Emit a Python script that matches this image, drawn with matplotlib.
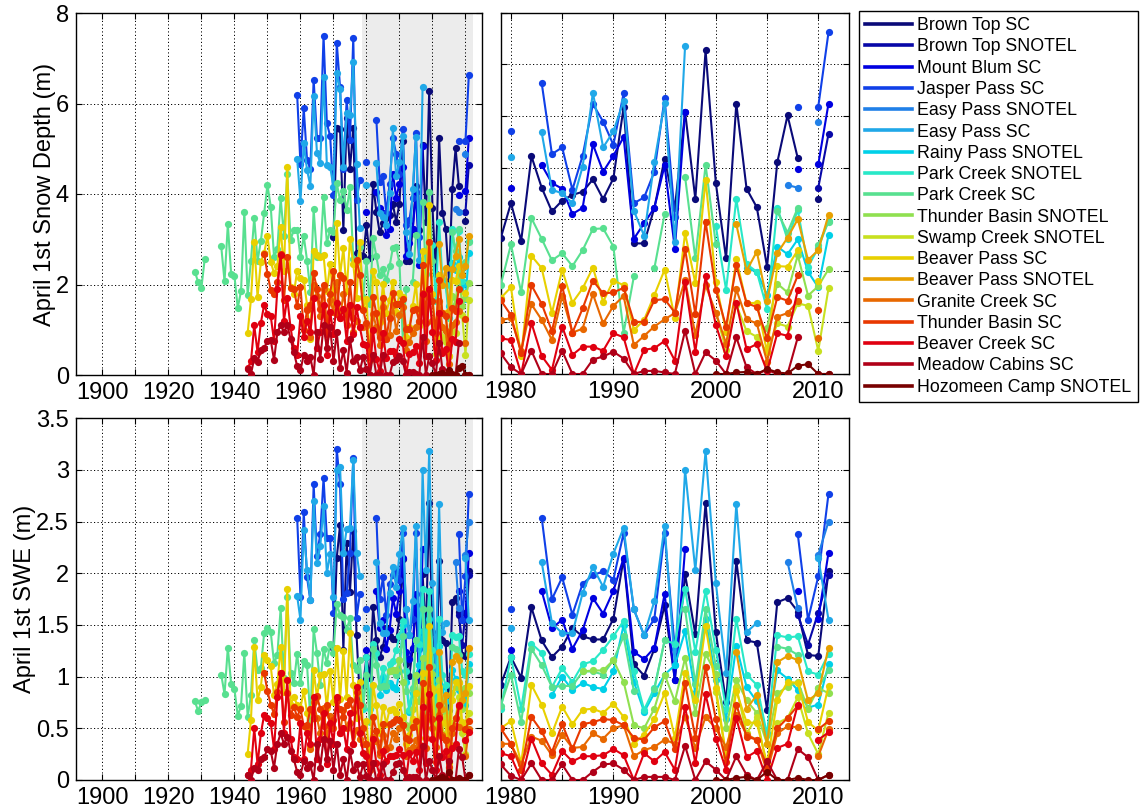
import numpy as np
import matplotlib
matplotlib.use("Agg")
import matplotlib.pyplot as plt
from matplotlib.lines import Line2D

plt.rcParams["font.family"] = ["Liberation Sans", "DejaVu Sans"]

N = np.nan

station_names = [
    "Brown Top SC", "Brown Top SNOTEL", "Mount Blum SC", "Jasper Pass SC",
    "Easy Pass SNOTEL", "Easy Pass SC", "Rainy Pass SNOTEL", "Park Creek SNOTEL",
    "Park Creek SC", "Thunder Basin SNOTEL", "Swamp Creek SNOTEL", "Beaver Pass SC",
    "Beaver Pass SNOTEL", "Granite Creek SC", "Thunder Basin SC", "Beaver Creek SC",
    "Meadow Cabins SC", "Hozomeen Camp SNOTEL",
]
station_colors = [
    "#0a0a78", "#0808a8", "#0000e0", "#1040e8", "#2080e8", "#20a8e8",
    "#00d0e8", "#28e8c8", "#58e090", "#90e050", "#c8e020", "#e8d000",
    "#e8a000", "#e86800", "#e83800", "#e00010", "#b00018", "#780000",
]

# Each record: (first year, one value per year); NaN marks a missing year.
# ---------------- April 1st snow depth (m) ----------------
brown_top_sc_depth = (1970, [
    3.05, 5.45, 5.44, 3.20, 5.67, 4.56, 5.45, 2.70, 2.65,
    2.63, 3.31, 2.58, 4.22, 3.61, 3.15, 3.36, 3.47, 3.53, 3.77, 3.39,
    3.79, 5.17, 2.53, 2.53, 3.22, 4.17, 3.21, 5.08, 3.39, 6.27,
    3.70, 2.24, 5.24, 3.59, 3.23, 2.08, 4.10, 5.01, 4.18, N, 3.40, N])
brown_top_snotel_depth = (2010, [3.61, 4.65])
mount_blum_sc_depth = (1979, [
    N, 3.60, N, N, 4.05, 3.70, 3.59, 3.10, 3.22, 4.45, 3.92,
    4.23, 4.59, 2.62, 2.92, 3.22, 4.04, 2.43, 5.07, N, N,
    N, N, N, N, N, N, N, N, 3.97, N, 4.06, 5.24])
jasper_pass_sc_depth = (1959, [
    6.19, 4.66, 5.89, 4.75, 4.56, 6.53, 5.24, 5.24, 7.49, 5.56,
    5.28, 3.98, 7.34, 6.36, 4.55, 6.08, 5.20, 7.45, 3.87, 4.30,
    N, 4.71, N, N, 5.64, 4.26, 4.39, 3.57, 4.23, 5.23, 4.89,
    4.44, 5.44, 3.31, 3.42, 3.92, 5.34, 3.05, N, N, N,
    N, N, N, N, N, N, N, N, 5.18, N, 5.18, 6.62])
easy_pass_snotel_depth = (2007, [3.66, 3.61, N, 4.88, N])
easy_pass_sc_depth = (1959, [
    4.78, 3.84, 5.12, 4.53, 4.18, 6.16, 4.91, 4.69, 6.58, 4.64,
    4.60, 4.15, 6.68, 6.33, 4.60, 5.78, 5.75, 6.92, 4.67, 3.25,
    N, 4.20, N, N, 4.68, 3.57, 3.50, 3.31, 4.02, 5.45, 4.39,
    4.70, 5.29, 3.16, 2.68, 4.11, 5.25, 2.55, 6.36])
rainy_pass_snotel_depth = (2003, [2.05, 1.98, 1.53, 2.47, 2.32, 2.61, 1.98, 1.68, 2.69])
park_creek_snotel_depth = (2000, [2.87, 1.63, 3.39, 2.13, 1.98, 1.26, 3.22, 2.61, 3.18, 2.08, 2.44, 2.97])
park_creek_sc_depth = (1928, [
    2.28, 2.06, 1.93, 2.57, N, N, N, N,
    2.84, 2.07, 3.33, 2.23, 2.19, 1.48, 1.86, 3.61, 1.77, 2.52,
    3.48, 2.52, 2.96, 3.57, 4.20, 3.72, 2.60, 2.79, 3.91, 3.07,
    4.45, 2.98, 3.21, 3.20, 2.61, 3.07, 2.53, 1.84, 3.66, 2.61,
    2.64, 3.93, 2.92, 3.20, 3.16, 4.24, 3.86, 4.07, 3.64, 4.15,
    2.57, 2.50, 2.83,
    1.72, 2.51, 1.58, 3.02, 2.62, 2.20, 2.34, 2.09, 2.40, 2.81, 2.82,
    2.47, 0.80, 1.89, N, 2.05, 3.10, N, 3.82, 2.24, 4.05,
    2.52, N, N, N, N, N, 3.15, 2.74, 3.22, N, 2.50, 2.95])
thunder_basin_snotel_depth = (2005, [0.90, 1.75, 1.58, 2.30, 1.52, 1.70, 2.03])
swamp_creek_snotel_depth = (2000, [1.19, 0.47, 1.34, 0.83, 0.72, 0.42, 0.98, 0.92, 1.37, 1.32, 0.45, 1.66])
beaver_pass_sc_depth = (1944, [
    0.92, 1.67, 2.93, 1.72, 2.50, 2.70, 3.07, 2.50, 2.25, 2.40,
    3.27, 2.30, 4.60, 1.95, 1.80, 2.30, 2.15, 2.10, 1.55, 0.80,
    2.75, 2.65, 2.60, 2.65, 1.85, 2.45, 1.60, 3.35, 2.20, 2.80,
    1.85, 3.00, 2.45, 1.70, 2.95,
    1.47, 1.68, 0.34, 2.29, 2.05, 1.18, 2.02, 1.38, 1.66, 2.06, 1.40,
    1.81, 1.72, 0.85, 1.05, 1.53, 2.02, 1.08, 2.73, 1.76, 3.76,
    1.78, 0.82, 2.22, 1.37, 1.38, 0.43, 2.09, 2.08, 2.40, N, 1.81, N])
beaver_pass_snotel_depth = (2002, [2.90, 2.00, 2.37, 1.42, 2.34, 2.64, 3.00, 2.21, 2.40, 3.08])
granite_creek_sc_depth = (1962, [
    1.45, 0.85, 2.00, 1.75, 1.30, 1.90, 1.10, 1.65, 1.40, 2.05,
    1.25, 1.80, 1.35, 1.55, 0.95, 1.20, 1.05,
    1.05, 1.08, 0.45, 1.35, 1.05, 0.66, 1.51, 0.80, 0.88, 1.55, 0.98,
    1.32, 1.51, 0.56, 0.74, 0.92, 1.06, 1.18, 1.82, 0.76, 1.72,
    1.19, 0.59, 1.64, 1.06, 0.98, 0.24, 1.11, 1.18, 1.41, N, 0.70, N])
thunder_basin_sc_depth = (1949, [
    2.68, 2.24, 1.87, 1.78, 2.05, 2.67, 1.65, 2.60, 1.93, 1.90,
    1.52, 1.95, 1.00, 1.43, 1.55, 2.25, 1.90, 1.45, 1.98, 0.90,
    1.80, 2.30, 1.35, 2.20, 2.15, 1.10, 2.05, 1.25, 2.55, 2.20,
    1.43, 1.14, 0.40, 1.72, 1.36, 0.83, 1.71, 0.80, 1.27, 1.81, 1.56,
    1.58, 1.67, 1.01, 1.01, 1.43, 1.45, 1.19, 2.42, 1.16, 2.95,
    1.63, 0.92, 2.11, 1.37, 1.30, 0.69, 1.49, 1.42, 1.91, N, 1.24, N])
beaver_creek_sc_depth = (1944, [
    0.15, 0.30, 1.10, 0.50, 1.15, 1.55, 1.35, 1.30, 0.75, 1.90,
    2.65, 1.20, 1.70, 1.05, 0.60, 0.45, 1.30, 0.85, 1.20, 0.95,
    1.70, 0.60, 0.95, 1.55, 0.45, 1.40, 0.90, 1.60, 1.25, 1.45,
    0.75, 1.55, 0.90, 1.50, 1.05,
    0.69, 0.66, 0.00, 0.99, 0.35, 0.08, 0.92, 0.37, 0.53, 0.53, 0.45,
    0.79, 0.71, 0.00, 0.47, 0.50, 0.64, 0.26, 1.79, 0.43, 1.89,
    0.95, 0.34, 1.38, 0.48, 0.58, 0.05, 0.79, 0.74, 1.63, N, N, N])
meadow_cabins_sc_depth = (1944, [
    0.13, 0.02, 0.37, 0.29, 0.55, 0.60, 0.75, 0.77, 0.33, 0.94,
    1.10, 0.95, 1.10, 0.80, 0.50, 0.20, 0.10, 0.45, 0.30, 0.40,
    0.00, 0.95, 0.35, 1.10, 0.60, 1.05, 0.30, 0.95, 0.15, 0.55,
    0.05, 0.80, 0.30, 0.40, 0.10,
    0.40, 0.13, 0.00, 0.45, 0.00, 0.00, 0.45, 0.00, 0.00, 0.28, 0.34,
    0.43, 0.30, 0.00, 0.06, 0.06, 0.03, 0.00, 0.84, 0.00, 0.42,
    0.26, 0.00, 0.71, 0.13, 0.00, 0.08, 0.00, 0.00, 0.71, N, 0.00, 0.00])
hozomeen_camp_snotel_depth = (2000, [0.00, 0.00, 0.03, 0.04, 0.00, 0.10, 0.03, 0.01, 0.16, 0.19, 0.00, 0.00])

# ---------------- April 1st snow water equivalent (m) ----------------
brown_top_sc_swe = (1970, [
    1.28, 2.15, 2.47, 1.26, 2.29, 1.82, 2.41, 1.40, 0.78,
    0.92, 1.19, 0.99, 1.67, 1.35, 1.19, 1.29, 1.47, 1.39, 1.36, 1.36,
    1.56, 2.14, 1.12, 1.01, 1.27, 1.69, 0.97, 1.99, 1.41, 2.68,
    1.43, 0.75, 2.12, 1.35, 1.33, 0.68, 1.72, 1.76, 1.63, 1.21, 1.20, 2.02])
brown_top_snotel_swe = (2008, [1.60, 1.31, 1.62, 1.98])
mount_blum_sc_swe = (1979, [
    N, 1.26, N, N, 1.83, 1.47, 1.55, 1.27, 1.45, 1.76, 1.61,
    1.83, 2.15, 1.24, 1.17, 1.28, 1.80, 0.97, 2.24, N, N,
    N, N, N, N, N, N, N, N, 1.83, N, 1.56, 2.20])
jasper_pass_sc_swe = (1959, [
    2.54, 1.77, 2.59, 1.96, 1.74, 2.86, 2.17, 2.38, 2.92, 2.34,
    2.34, 1.62, 3.20, 2.86, 1.75, 1.81, 2.20, 3.12, 1.57, 1.80,
    N, 1.65, N, N, 2.54, 1.75, 1.96, 1.60, 1.90, 1.98, 2.02,
    1.94, 2.39, 1.65, 1.40, 1.56, 2.39, 1.27, N, N, N,
    N, N, N, N, N, N, N, N, 2.38, 1.55, 1.97, 2.77])
easy_pass_snotel_swe = (2007, [2.11, 1.66, N, 2.18, 2.50])
easy_pass_sc_swe = (1959, [
    1.78, 1.55, 2.42, 2.03, 1.74, 2.70, 2.10, 2.26, 2.65, 2.00,
    2.19, 1.77, 3.00, 3.03, 2.20, 2.43, 2.44, 3.10, 2.20, 1.97,
    N, 1.47, N, N, 2.11, 1.52, 1.42, 1.42, 1.81, 2.06, 1.87,
    2.19, 2.44, 1.65, 1.40, 1.73, 2.46, 1.11, 3.00, 2.03, 3.18,
    1.91, 1.04, 2.67, 1.43, 1.52, N, N, N, N, N, 2.15, 1.55])
rainy_pass_snotel_swe = (1984, [
    0.82, 1.00, 0.87, 0.94, 0.90, 0.88,
    1.05, 1.50, 0.95, 0.66, 0.84, 1.02, 1.11, 1.44, 0.84, 1.56,
    0.97, 0.59, 1.30, 0.90, 0.76, 0.45, 1.06, 0.98, 0.87, 0.70, 0.73, 1.12])
park_creek_snotel_swe = (1979, [
    0.69, 1.19, 0.69, 1.32, 1.23, 0.90, 1.08, 0.95, 1.12, 1.15, 1.26,
    1.39, 1.54, 1.05, 0.68, 0.89, 1.35, 1.32, 1.85, 1.24, 1.83,
    1.26, 0.69, 1.56, 1.02, 0.92, 0.44, 1.40, 1.38, 1.39, 1.05, 1.02, 1.22])
park_creek_sc_swe = (1928, [
    0.76, 0.67, 0.75, 0.77, N, N, N, N,
    1.02, 0.83, 1.28, 0.93, 0.88, 0.62, 0.72, 1.23, 0.61, 0.82,
    1.35, 1.06, 1.08, 1.42, 1.47, 1.43, 1.13, 1.21, 1.66, 0.99,
    1.77, 1.04, 0.94, 1.22, 0.94, 1.15, 1.11, 0.58, 1.46, 1.23,
    0.92, 1.27, 1.13, 1.32, 1.23, 1.70, 1.60, 1.58, 1.45, 1.57,
    1.11, 1.06, 1.16,
    0.72, 1.02, 0.56, 1.27, 1.11, 0.90, 0.91, 0.91, 1.05, 1.05, 1.02,
    1.16, 1.39, 0.86, N, 0.88, 1.35, N, 1.65, 0.93, 1.65,
    1.10, N, N, N, N, N, 1.29, 1.27, 1.21, N, 0.89, 1.06])
thunder_basin_snotel_swe = (1987, [
    1.05, 1.06, 1.06,
    1.16, 0.95, 0.53, 0.50, 0.69, 1.02, 0.76, 1.18, 0.65, 1.22,
    1.03, 0.50, 0.97, 0.77, 0.65, 0.35, 0.84, 0.90, 0.95, 0.69, 0.89, 0.84])
swamp_creek_snotel_swe = (2000, [0.85, 0.23, 0.90, 0.45, 0.61, 0.12, 0.55, 0.60, 0.80, 0.45, 0.25, 0.65])
beaver_pass_sc_swe = (1944, [
    0.25, 0.58, 1.29, 0.77, 0.90, 1.21, 1.16, 1.10, 0.82, 0.93,
    1.29, 0.85, 1.85, 0.73, 0.80, 0.73, 0.70, 0.86, 0.65, 0.33,
    1.06, 0.80, 1.02, 1.03, 0.70, 1.05, 0.75, 1.28, 0.78, 1.25,
    0.80, 1.42, 0.92, 0.60, 0.95,
    0.50, 0.57, 0.16, 0.92, 0.73, 0.45, 0.71, 0.54, 0.68, 0.69, 0.65,
    0.74, 0.61, 0.35, 0.44, 0.59, 0.84, 0.41, 1.04, 0.77, 1.49,
    0.89, 0.24, 0.86, 0.56, 0.55, 0.16, 0.77, 0.95, 0.94, 0.56, 0.48, 0.91])
beaver_pass_snotel_swe = (2002, [1.24, 0.69, 0.82, 0.35, 1.14, 1.20, 1.16, 0.77, 0.84, 1.28])
granite_creek_sc_swe = (1962, [
    0.50, 0.30, 0.75, 0.60, 0.45, 0.70, 0.40, 0.62, 0.50, 0.78,
    0.45, 0.68, 0.50, 0.55, 0.35, 0.48, 0.40,
    0.35, 0.35, 0.15, 0.42, 0.38, 0.24, 0.44, 0.31, 0.32, 0.45, 0.40,
    0.50, 0.53, 0.23, 0.29, 0.32, 0.39, 0.35, 0.61, 0.31, 0.61,
    0.50, 0.32, 0.63, 0.44, 0.39, 0.08, 0.45, 0.52, 0.51, N, 0.23, 0.49])
thunder_basin_sc_swe = (1949, [
    1.04, 0.86, 0.73, 0.64, 0.85, 1.04, 0.56, 0.84, 0.63, 0.71,
    0.61, 0.69, 0.52, 0.53, 0.69, 0.60, 0.81, 0.69, 0.52, 0.73,
    0.52, 0.58, 0.76, 0.69, 0.61, 0.73, 0.77, 0.66, 0.85, 0.73,
    0.50, 0.35, 0.10, 0.61, 0.47, 0.27, 0.54, 0.30, 0.54, 0.56, 0.59,
    0.58, 0.53, 0.41, 0.39, 0.51, 0.57, 0.30, 0.94, 0.41, 1.09,
    0.59, 0.17, 0.73, 0.42, 0.39, 0.13, 0.50, 0.60, 0.72, N, 0.49, 0.57])
beaver_creek_sc_swe = (1944, [
    0.05, 0.10, 0.50, 0.15, 0.45, 0.63, 0.60, 0.55, 0.30, 0.80,
    1.04, 0.45, 0.97, 0.40, 0.22, 0.20, 0.55, 0.20, 0.45, 0.35,
    0.80, 0.20, 0.40, 0.65, 0.15, 0.55, 0.35, 0.80, 0.45, 0.50,
    0.30, 0.65, 0.35, 0.90, 0.45,
    0.26, 0.23, 0.00, 0.40, 0.16, 0.05, 0.28, 0.18, 0.23, 0.23, 0.24,
    0.30, 0.24, 0.00, 0.26, 0.18, 0.27, 0.10, 0.71, 0.16, 0.83,
    0.40, 0.10, 0.60, 0.22, 0.28, 0.00, 0.31, 0.35, 0.73, N, 0.39, 0.46])
meadow_cabins_sc_swe = (1944, [
    0.05, 0.00, 0.12, 0.10, 0.20, 0.22, 0.30, 0.28, 0.12, 0.35,
    0.45, 0.35, 0.42, 0.28, 0.20, 0.08, 0.05, 0.18, 0.12, 0.15,
    0.00, 0.35, 0.12, 0.40, 0.20, 0.38, 0.10, 0.35, 0.05, 0.20,
    0.00, 0.28, 0.10, 0.15, 0.03,
    0.15, 0.04, 0.00, 0.16, 0.00, 0.00, 0.15, 0.00, 0.00, 0.08, 0.15,
    0.16, 0.10, 0.00, 0.03, 0.03, 0.03, 0.00, 0.33, 0.00, 0.18,
    0.10, 0.00, 0.23, 0.05, 0.00, 0.18, 0.00, 0.00, 0.30, 0.22, 0.00, 0.05])
hozomeen_camp_snotel_swe = (2000, [0.00, 0.00, 0.02, 0.03, 0.00, 0.08, 0.00, 0.00, 0.02, 0.00, 0.00, 0.05])

depth_records = [
    brown_top_sc_depth, brown_top_snotel_depth, mount_blum_sc_depth,
    jasper_pass_sc_depth, easy_pass_snotel_depth, easy_pass_sc_depth,
    rainy_pass_snotel_depth, park_creek_snotel_depth, park_creek_sc_depth,
    thunder_basin_snotel_depth, swamp_creek_snotel_depth, beaver_pass_sc_depth,
    beaver_pass_snotel_depth, granite_creek_sc_depth, thunder_basin_sc_depth,
    beaver_creek_sc_depth, meadow_cabins_sc_depth, hozomeen_camp_snotel_depth,
]
swe_records = [
    brown_top_sc_swe, brown_top_snotel_swe, mount_blum_sc_swe,
    jasper_pass_sc_swe, easy_pass_snotel_swe, easy_pass_sc_swe,
    rainy_pass_snotel_swe, park_creek_snotel_swe, park_creek_sc_swe,
    thunder_basin_snotel_swe, swamp_creek_snotel_swe, beaver_pass_sc_swe,
    beaver_pass_snotel_swe, granite_creek_sc_swe, thunder_basin_sc_swe,
    beaver_creek_sc_swe, meadow_cabins_sc_swe, hozomeen_camp_snotel_swe,
]

overlap_period = (1978.6, 2012.3)
FS = 17
W, H = 1140, 811


def px_axes(x0, y0, x1, y1):
    return [x0 / W, 1 - y1 / H, (x1 - x0) / W, (y1 - y0) / H]


def draw_records(ax, records):
    for (start, vals), color in zip(records, station_colors):
        vals = np.asarray(vals, dtype=float)
        years = start + np.arange(len(vals))
        ax.plot(years, vals, "-o", color=color, lw=1.5, ms=5.2,
                mew=0, zorder=3)


def style_axes(ax):
    ax.grid(True, color="k", linestyle=(0, (1.2, 2.4)), linewidth=0.7)
    ax.set_axisbelow(True)
    ax.tick_params(direction="in", top=True, right=True, length=4,
                   width=0.8, labelsize=FS, pad=5)
    for s in ax.spines.values():
        s.set_linewidth(1.0)


fig = plt.figure(figsize=(W / 100, H / 100), dpi=100)
ax_tl = fig.add_axes(px_axes(76, 13, 482, 375))
ax_tr = fig.add_axes(px_axes(500.7, 12.7, 849, 374))
ax_bl = fig.add_axes(px_axes(76, 418.3, 482, 780))
ax_br = fig.add_axes(px_axes(500.7, 418.3, 849, 780))

long_ticks = list(range(1900, 2011, 10))
long_labels = [str(y) if (y % 20 == 0) else "" for y in long_ticks]
short_ticks = list(range(1980, 2011, 5))
short_labels = [str(y) if (y % 10 == 0) else "" for y in short_ticks]

for ax, recs in [(ax_tl, depth_records), (ax_bl, swe_records)]:
    ax.axvspan(*overlap_period, color="#ececec", lw=0, zorder=0.2)
    draw_records(ax, recs)
    ax.set_xlim(1892, 2015)
    ax.set_xticks(long_ticks)
    ax.set_xticklabels(long_labels)
    style_axes(ax)

for ax, recs in [(ax_tr, depth_records), (ax_br, swe_records)]:
    draw_records(ax, recs)
    ax.set_xlim(1979, 2013)
    ax.set_xticks(short_ticks)
    ax.set_xticklabels(short_labels)
    style_axes(ax)
    ax.tick_params(labelleft=False)

ax_tl.set_ylim(0, 8)
ax_tl.set_yticks([0, 2, 4, 6, 8])
ax_tl.set_ylabel("April 1st Snow Depth (m)", fontsize=FS, labelpad=0)

ax_tr.set_ylim(0, 7)
ax_tr.set_yticks(range(0, 8))

swe_ticks = [0, 0.5, 1, 1.5, 2, 2.5, 3, 3.5]
for ax in (ax_bl, ax_br):
    ax.set_ylim(0, 3.5)
    ax.set_yticks(swe_ticks)
ax_bl.set_yticklabels(["0", "0.5", "1", "1.5", "2", "2.5", "3", "3.5"])
ax_bl.set_ylabel("April 1st SWE (m)", fontsize=FS, labelpad=0)

handles = [Line2D([], [], color=c, lw=2.6) for c in station_colors]
leg = fig.legend(handles, station_names, loc="upper left",
                 bbox_to_anchor=(859 / W, 1 - 11 / H), borderaxespad=0,
                 fontsize=12.8, handlelength=2.64, handletextpad=0.3,
                 labelspacing=0.24, borderpad=0.35, frameon=True,
                 fancybox=False, edgecolor="k", framealpha=1)
leg.get_frame().set_linewidth(1.0)

fig.savefig("out.png", dpi=100)
